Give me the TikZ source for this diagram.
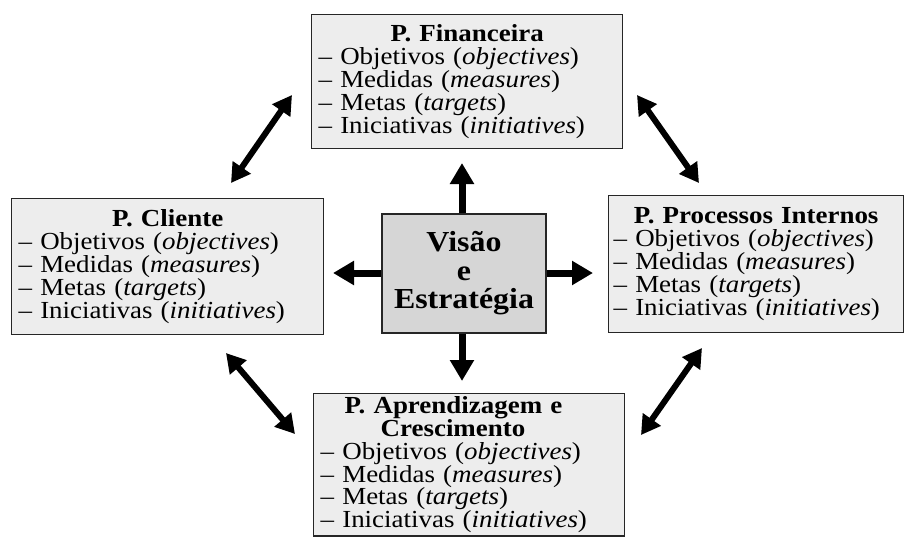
\documentclass[tikz,border=0pt]{standalone}
\usepackage{fontspec}
\setmainfont{Liberation Serif}[FakeStretch=1.1]
\setlength{\parindent}{0pt}
\usetikzlibrary{arrows.meta,positioning}
\tikzset{
  persp/.style={draw=black!85, fill=black!7, line width=1.3pt, anchor=north west,
    inner xsep=7pt, inner ysep=3pt, font=\fontsize{24.5}{22.8}\selectfont},
  visao/.style={draw=black!85, fill=black!16, line width=1.3pt, align=center,
    minimum width=164pt, minimum height=119pt, inner sep=2pt,
    font=\fontsize{29}{28.5}\selectfont\bfseries},
  seta/.style={line width=7pt, -{Triangle[length=21pt,width=23pt]}},
  duplaseta/.style={line width=6pt, {Triangle[length=19pt,width=21pt]}-{Triangle[length=19pt,width=21pt]}}
}
\newcommand{\itens}{%
-- Objetivos (\textit{objectives})\newline
-- Medidas (\textit{measures})\newline
-- Metas (\textit{targets})\newline
-- Iniciativas (\textit{initiatives})}
\begin{document}
\begin{tikzpicture}[x=1pt,y=-1pt]
	\clip (0,0) rectangle (906,538);
	\fill[white] (0,0) rectangle (906,538);
	\node[persp, text width=297pt, minimum height=134pt] (fin) at (311,14)
		{{\centering\bfseries P. Financeira\par}\itens};
	\node[persp, text width=298pt, minimum height=136pt] (cli) at (11,198)
		{{\centering\bfseries P. Cliente\par}\itens};
	\node[persp, text width=285pt, inner xsep=5pt, minimum height=137pt] (proc) at (608,195)
		{{\centering\bfseries P. Processos Internos\par}\itens};
	\node[persp, text width=297pt] (apr) at (313,393)
		{{\leftskip=24pt\rightskip=0pt plus 1fil\bfseries P. Aprendizagem e\par
		\leftskip=60pt Crescimento\par}\itens};
	\node[visao] (vis) at (464,273.5) {Visão\\e\\Estratégia};
	\coordinate (c1) at (462,163);
	\coordinate (c2) at (462,381);
	\coordinate (c3) at (333,273);
	\coordinate (c4) at (593,273);
	\draw[seta] (vis.north -| c1) -- (c1);
	\draw[seta] (vis.south -| c2) -- (c2);
	\draw[seta] (vis.west |- c3) -- (c3);
	\draw[seta] (vis.east |- c4) -- (c4);
	\coordinate (a1) at (231,183);
	\coordinate (a2) at (292,95);
	\coordinate (b1) at (637,95);
	\coordinate (b2) at (699,183);
	\coordinate (d1) at (226,353);
	\coordinate (d2) at (295,434);
	\coordinate (e1) at (702,348);
	\coordinate (e2) at (641,435);
	\draw[duplaseta] (a1) -- (a2);
	\draw[duplaseta] (b1) -- (b2);
	\draw[duplaseta] (d1) -- (d2);
	\draw[duplaseta] (e1) -- (e2);
\end{tikzpicture}
\end{document}
